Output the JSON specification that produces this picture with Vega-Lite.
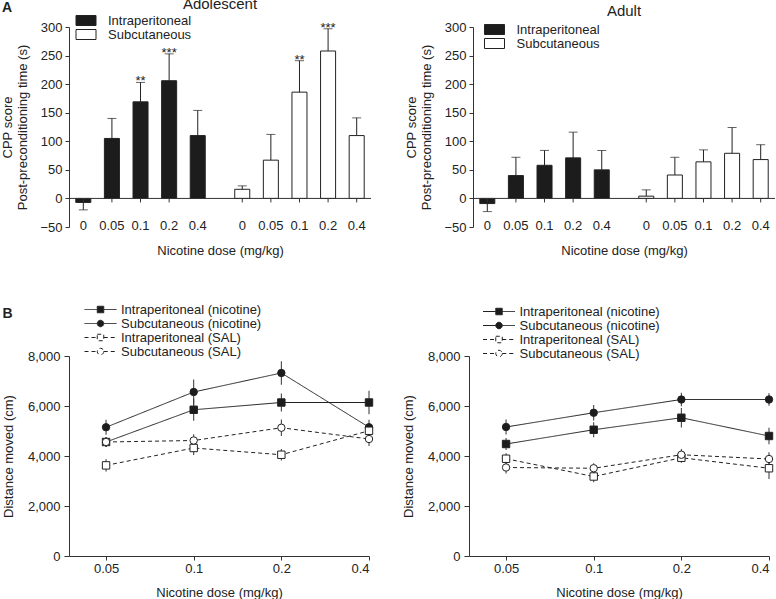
{
  "$schema": "https://vega.github.io/schema/vega-lite/v6.json",
  "padding": {"left": 1, "top": -3, "right": 0, "bottom": 0},
  "config": {
    "font": "Liberation Sans",
    "view": {"stroke": null},
    "axis": {"labelFontSize": 13, "titleFontSize": 13, "titleFontWeight": "normal", "labelColor": "#222", "titleColor": "#222", "domainColor": "#333", "tickColor": "#333", "grid": false, "tickSize": 4, "labelPadding": 3, "labelOverlap": false},
    "legend": {"labelFontSize": 13, "labelColor": "#222", "padding": 0},
    "title": {"fontSize": 15, "fontWeight": "normal", "color": "#222"}
  },
  "datasets": {
    "bars": [
      {"age": "Adolescent", "route": "Intraperitoneal", "dose": "0", "value": -7, "upper": -20, "sig": null},
      {"age": "Adolescent", "route": "Intraperitoneal", "dose": "0.05", "value": 105, "upper": 140, "sig": null},
      {"age": "Adolescent", "route": "Intraperitoneal", "dose": "0.1", "value": 169, "upper": 203, "sig": "**"},
      {"age": "Adolescent", "route": "Intraperitoneal", "dose": "0.2", "value": 206, "upper": 253, "sig": "***"},
      {"age": "Adolescent", "route": "Intraperitoneal", "dose": "0.4", "value": 110, "upper": 154, "sig": null},
      {"age": "Adolescent", "route": "Subcutaneous", "dose": "0", "value": 16, "upper": 22, "sig": null},
      {"age": "Adolescent", "route": "Subcutaneous", "dose": "0.05", "value": 67, "upper": 112, "sig": null},
      {"age": "Adolescent", "route": "Subcutaneous", "dose": "0.1", "value": 186, "upper": 241, "sig": "**"},
      {"age": "Adolescent", "route": "Subcutaneous", "dose": "0.2", "value": 258, "upper": 297, "sig": "***"},
      {"age": "Adolescent", "route": "Subcutaneous", "dose": "0.4", "value": 110, "upper": 141, "sig": null},
      {"age": "Adult", "route": "Intraperitoneal", "dose": "0", "value": -9, "upper": -23, "sig": null},
      {"age": "Adult", "route": "Intraperitoneal", "dose": "0.05", "value": 40, "upper": 72, "sig": null},
      {"age": "Adult", "route": "Intraperitoneal", "dose": "0.1", "value": 58, "upper": 84, "sig": null},
      {"age": "Adult", "route": "Intraperitoneal", "dose": "0.2", "value": 71, "upper": 116, "sig": null},
      {"age": "Adult", "route": "Intraperitoneal", "dose": "0.4", "value": 50, "upper": 84, "sig": null},
      {"age": "Adult", "route": "Subcutaneous", "dose": "0", "value": 4, "upper": 15, "sig": null},
      {"age": "Adult", "route": "Subcutaneous", "dose": "0.05", "value": 41, "upper": 72, "sig": null},
      {"age": "Adult", "route": "Subcutaneous", "dose": "0.1", "value": 64, "upper": 85, "sig": null},
      {"age": "Adult", "route": "Subcutaneous", "dose": "0.2", "value": 79, "upper": 124, "sig": null},
      {"age": "Adult", "route": "Subcutaneous", "dose": "0.4", "value": 68, "upper": 94, "sig": null}
    ],
    "lines": [
      {"age": "Adolescent", "series": "Intraperitoneal (nicotine)", "dose": 0.05, "value": 4560, "sd": 200},
      {"age": "Adolescent", "series": "Intraperitoneal (nicotine)", "dose": 0.1, "value": 5850, "sd": 440},
      {"age": "Adolescent", "series": "Intraperitoneal (nicotine)", "dose": 0.2, "value": 6140, "sd": 360},
      {"age": "Adolescent", "series": "Intraperitoneal (nicotine)", "dose": 0.4, "value": 6140, "sd": 470},
      {"age": "Adolescent", "series": "Subcutaneous (nicotine)", "dose": 0.05, "value": 5150, "sd": 300},
      {"age": "Adolescent", "series": "Subcutaneous (nicotine)", "dose": 0.1, "value": 6560, "sd": 500},
      {"age": "Adolescent", "series": "Subcutaneous (nicotine)", "dose": 0.2, "value": 7320, "sd": 470},
      {"age": "Adolescent", "series": "Subcutaneous (nicotine)", "dose": 0.4, "value": 5150, "sd": 300},
      {"age": "Adolescent", "series": "Intraperitoneal (SAL)", "dose": 0.05, "value": 3625, "sd": 250},
      {"age": "Adolescent", "series": "Intraperitoneal (SAL)", "dose": 0.1, "value": 4320, "sd": 280},
      {"age": "Adolescent", "series": "Intraperitoneal (SAL)", "dose": 0.2, "value": 4050, "sd": 230},
      {"age": "Adolescent", "series": "Intraperitoneal (SAL)", "dose": 0.4, "value": 5010, "sd": 250},
      {"age": "Adolescent", "series": "Subcutaneous (SAL)", "dose": 0.05, "value": 4560, "sd": 200},
      {"age": "Adolescent", "series": "Subcutaneous (SAL)", "dose": 0.1, "value": 4620, "sd": 250},
      {"age": "Adolescent", "series": "Subcutaneous (SAL)", "dose": 0.2, "value": 5130, "sd": 330},
      {"age": "Adolescent", "series": "Subcutaneous (SAL)", "dose": 0.4, "value": 4680, "sd": 280},
      {"age": "Adult", "series": "Intraperitoneal (nicotine)", "dose": 0.05, "value": 4480, "sd": 240},
      {"age": "Adult", "series": "Intraperitoneal (nicotine)", "dose": 0.1, "value": 5050, "sd": 300},
      {"age": "Adult", "series": "Intraperitoneal (nicotine)", "dose": 0.2, "value": 5530, "sd": 390},
      {"age": "Adult", "series": "Intraperitoneal (nicotine)", "dose": 0.4, "value": 4800, "sd": 330},
      {"age": "Adult", "series": "Subcutaneous (nicotine)", "dose": 0.05, "value": 5160, "sd": 300},
      {"age": "Adult", "series": "Subcutaneous (nicotine)", "dose": 0.1, "value": 5730, "sd": 310},
      {"age": "Adult", "series": "Subcutaneous (nicotine)", "dose": 0.2, "value": 6260, "sd": 270},
      {"age": "Adult", "series": "Subcutaneous (nicotine)", "dose": 0.4, "value": 6260, "sd": 250},
      {"age": "Adult", "series": "Intraperitoneal (SAL)", "dose": 0.05, "value": 3890, "sd": 220},
      {"age": "Adult", "series": "Intraperitoneal (SAL)", "dose": 0.1, "value": 3180, "sd": 230},
      {"age": "Adult", "series": "Intraperitoneal (SAL)", "dose": 0.2, "value": 3930, "sd": 200},
      {"age": "Adult", "series": "Intraperitoneal (SAL)", "dose": 0.4, "value": 3510, "sd": 430},
      {"age": "Adult", "series": "Subcutaneous (SAL)", "dose": 0.05, "value": 3540, "sd": 240},
      {"age": "Adult", "series": "Subcutaneous (SAL)", "dose": 0.1, "value": 3510, "sd": 200},
      {"age": "Adult", "series": "Subcutaneous (SAL)", "dose": 0.2, "value": 4050, "sd": 230},
      {"age": "Adult", "series": "Subcutaneous (SAL)", "dose": 0.4, "value": 3880, "sd": 270}
    ]
  },
  "resolve": {"scale": {"fill": "independent", "strokeDash": "independent", "shape": "independent", "stroke": "independent"}},
  "spacing": 46,
  "vconcat": [
    {
      "title": {"text": "A", "anchor": "start", "frame": "bounds", "fontSize": 14, "fontWeight": "bold", "offset": 0, "dy": 18},
      "spacing": 33,
      "resolve": {"scale": {"fill": "independent"}},
      "hconcat": [
        {
          "title": {"text": "Adolescent", "offset": 2},
          "width": 302, "height": 200,
          "data": {"name": "bars"},
          "transform": [{"filter": "datum.age === 'Adolescent'"}],
          "layer": [
            {
              "mark": {"type": "bar", "stroke": "#222", "strokeWidth": 1},
              "encoding": {
                "x": {"field": "route", "type": "nominal", "scale": {"domain": ["Intraperitoneal", "Subcutaneous"], "paddingInner": 0.1, "paddingOuter": 0}, "axis": {"labels": false, "ticks": false, "domain": false, "title": "Nicotine dose (mg/kg)", "titlePadding": 17}},
                "xOffset": {"field": "dose", "type": "nominal", "sort": ["0", "0.05", "0.1", "0.2", "0.4"], "scale": {"paddingInner": 0.475, "paddingOuter": 0.2375}},
                "y": {"field": "value", "type": "quantitative", "scale": {"domain": [-50, 300], "nice": false, "zero": false}, "axis": {"values": [-50, 0, 50, 100, 150, 200, 250, 300], "tickCount": 12, "offset": 0, "title": ["CPP score", "Post-preconditioning time (s)"], "titleLineHeight": 15, "titlePadding": 10}},
                "fill": {"field": "route", "type": "nominal", "scale": {"domain": ["Intraperitoneal", "Subcutaneous"], "range": ["#1c1c1c", "#ffffff"]}, "legend": {"orient": "none", "legendX": 10.5, "legendY": -13, "title": null, "symbolType": "M-2,-1H2V1H-2Z", "symbolSize": 100, "symbolStrokeColor": "#222", "symbolStrokeWidth": 1, "labelOffset": 15.5, "rowPadding": -4}}
              }
            },
            {
              "mark": {"type": "rule", "color": "#222"},
              "encoding": {
                "x": {"field": "route", "type": "nominal"},
                "xOffset": {"field": "dose", "type": "nominal", "sort": ["0", "0.05", "0.1", "0.2", "0.4"]},
                "y": {"field": "value", "type": "quantitative"},
                "y2": {"field": "upper"}
              }
            },
            {
              "mark": {"type": "tick", "color": "#222", "size": 9, "thickness": 1},
              "encoding": {
                "x": {"field": "route", "type": "nominal"},
                "xOffset": {"field": "dose", "type": "nominal", "sort": ["0", "0.05", "0.1", "0.2", "0.4"]},
                "y": {"field": "upper", "type": "quantitative"}
              }
            },
            {
              "transform": [{"aggregate": [{"op": "count", "as": "n"}]}],
              "mark": {"type": "rule", "color": "#333"},
              "encoding": {"y": {"datum": 0, "type": "quantitative"}}
            },
            {
              "transform": [{"filter": "!(datum.route === 'Intraperitoneal' && datum.dose === '0.4')"}],
              "mark": {"type": "rule", "color": "#333", "xOffset": 14.3},
              "encoding": {
                "x": {"field": "route", "type": "nominal"},
                "xOffset": {"field": "dose", "type": "nominal", "sort": ["0", "0.05", "0.1", "0.2", "0.4"]},
                "y": {"datum": 0, "type": "quantitative"},
                "y2": {"datum": -7}
              }
            },
            {
              "mark": {"type": "text", "fontSize": 13, "color": "#222", "baseline": "middle", "dy": -1},
              "encoding": {
                "x": {"field": "route", "type": "nominal"},
                "xOffset": {"field": "dose", "type": "nominal", "sort": ["0", "0.05", "0.1", "0.2", "0.4"]},
                "y": {"datum": -50, "type": "quantitative"},
                "text": {"field": "dose"}
              }
            },
            {
              "transform": [{"filter": "datum.sig"}],
              "mark": {"type": "text", "fontSize": 13, "color": "#222", "baseline": "alphabetic", "dy": 3},
              "encoding": {
                "x": {"field": "route", "type": "nominal"},
                "xOffset": {"field": "dose", "type": "nominal", "sort": ["0", "0.05", "0.1", "0.2", "0.4"]},
                "y": {"field": "upper", "type": "quantitative"},
                "text": {"field": "sig"}
              }
            }
          ]
        },
        {
          "title": {"text": "Adult", "offset": 2},
          "width": 302, "height": 200,
          "data": {"name": "bars"},
          "transform": [{"filter": "datum.age === 'Adult'"}],
          "layer": [
            {
              "mark": {"type": "bar", "stroke": "#222", "strokeWidth": 1},
              "encoding": {
                "x": {"field": "route", "type": "nominal", "scale": {"domain": ["Intraperitoneal", "Subcutaneous"], "paddingInner": 0.1, "paddingOuter": 0}, "axis": {"labels": false, "ticks": false, "domain": false, "title": "Nicotine dose (mg/kg)", "titlePadding": 17}},
                "xOffset": {"field": "dose", "type": "nominal", "sort": ["0", "0.05", "0.1", "0.2", "0.4"], "scale": {"paddingInner": 0.475, "paddingOuter": 0.2375}},
                "y": {"field": "value", "type": "quantitative", "scale": {"domain": [-50, 300], "nice": false, "zero": false}, "axis": {"values": [-50, 0, 50, 100, 150, 200, 250, 300], "tickCount": 12, "offset": 0, "title": ["CPP score", "Post-preconditioning time (s)"], "titleLineHeight": 15, "titlePadding": 10}},
                "fill": {"field": "route", "type": "nominal", "scale": {"domain": ["Intraperitoneal", "Subcutaneous"], "range": ["#1c1c1c", "#ffffff"]}, "legend": {"orient": "none", "legendX": 15, "legendY": -4, "title": null, "symbolType": "M-2,-1H2V1H-2Z", "symbolSize": 100, "symbolStrokeColor": "#222", "symbolStrokeWidth": 1, "labelOffset": 15.5, "rowPadding": -4}}
              }
            },
            {
              "mark": {"type": "rule", "color": "#222"},
              "encoding": {
                "x": {"field": "route", "type": "nominal"},
                "xOffset": {"field": "dose", "type": "nominal", "sort": ["0", "0.05", "0.1", "0.2", "0.4"]},
                "y": {"field": "value", "type": "quantitative"},
                "y2": {"field": "upper"}
              }
            },
            {
              "mark": {"type": "tick", "color": "#222", "size": 9, "thickness": 1},
              "encoding": {
                "x": {"field": "route", "type": "nominal"},
                "xOffset": {"field": "dose", "type": "nominal", "sort": ["0", "0.05", "0.1", "0.2", "0.4"]},
                "y": {"field": "upper", "type": "quantitative"}
              }
            },
            {
              "transform": [{"aggregate": [{"op": "count", "as": "n"}]}],
              "mark": {"type": "rule", "color": "#333"},
              "encoding": {"y": {"datum": 0, "type": "quantitative"}}
            },
            {
              "transform": [{"filter": "!(datum.route === 'Intraperitoneal' && datum.dose === '0.4')"}],
              "mark": {"type": "rule", "color": "#333", "xOffset": 14.3},
              "encoding": {
                "x": {"field": "route", "type": "nominal"},
                "xOffset": {"field": "dose", "type": "nominal", "sort": ["0", "0.05", "0.1", "0.2", "0.4"]},
                "y": {"datum": 0, "type": "quantitative"},
                "y2": {"datum": -7}
              }
            },
            {
              "mark": {"type": "text", "fontSize": 13, "color": "#222", "baseline": "middle", "dy": -1},
              "encoding": {
                "x": {"field": "route", "type": "nominal"},
                "xOffset": {"field": "dose", "type": "nominal", "sort": ["0", "0.05", "0.1", "0.2", "0.4"]},
                "y": {"datum": -50, "type": "quantitative"},
                "text": {"field": "dose"}
              }
            }
          ]
        }
      ]
    },
    {
      "title": {"text": "B", "anchor": "start", "frame": "bounds", "fontSize": 14, "fontWeight": "bold", "offset": 0, "dy": 18},
      "spacing": 27,
      "resolve": {"scale": {"fill": "independent", "strokeDash": "independent", "shape": "independent", "stroke": "independent"}},
      "hconcat": [
        {
          "width": 300, "height": 200,
          "data": {"name": "lines"},
          "transform": [{"filter": "datum.age === 'Adolescent'"}],
          "encoding": {
            "x": {"field": "dose", "type": "quantitative", "scale": {"type": "log", "base": 2, "domain": [0.0373, 0.4], "nice": false}, "axis": {"values": [0.05, 0.1, 0.2, 0.4], "format": "~g", "title": "Nicotine dose (mg/kg)", "labelPadding": 2, "titlePadding": 11}},
            "y": {"field": "value", "type": "quantitative", "scale": {"domain": [0, 8000], "nice": false}, "axis": {"values": [0, 2000, 4000, 6000, 8000], "format": ",d", "title": "Distance moved (cm)", "tickSize": 5, "labelPadding": 4, "titlePadding": 12}}
          },
          "layer": [
            {
              "mark": {"type": "errorbar", "color": "#333", "thickness": 1},
              "encoding": {"yError": {"field": "sd"}, "detail": {"field": "series"}}
            },
            {
              "mark": {"type": "line", "color": "#222", "strokeWidth": 1},
              "encoding": {
                "strokeDash": {"field": "series", "type": "nominal", "scale": {"domain": ["Intraperitoneal (nicotine)", "Subcutaneous (nicotine)", "Intraperitoneal (SAL)", "Subcutaneous (SAL)"], "range": [[1, 0], [1, 0], [4, 3], [4, 3]]},
                  "legend": {"orient": "none", "legendX": 25, "legendY": -53, "title": null, "symbolSize": 100, "symbolOpacity": 1, "symbolStrokeWidth": 1, "labelOffset": 14, "rowPadding": 0}}
              }
            },
            {
              "mark": {"type": "point", "filled": true, "stroke": "#222", "strokeWidth": 1, "size": 55, "opacity": 1},
              "encoding": {
                "shape": {"condition": {"test": "indexof(datum.series, 'Intra') === 0", "value": "square"}, "value": "circle"},
                "fill": {"condition": {"test": "indexof(datum.series, 'SAL') > 0", "value": "#ffffff"}, "value": "#1c1c1c"}
              }
            },
            {
              "mark": {"type": "point", "filled": true, "strokeWidth": 1, "opacity": 0, "size": 1},
              "encoding": {
                "shape": {"field": "series", "type": "nominal", "scale": {"domain": ["Intraperitoneal (nicotine)", "Subcutaneous (nicotine)", "Intraperitoneal (SAL)", "Subcutaneous (SAL)"], "range": ["M-3.2,0H-0.65M0.65,0H3.2M-0.65,-0.65H0.65V0.65H-0.65Z", "M-3.2,0H-0.65M0.65,0H3.2M0.65,0A0.65,0.65 0 1 1 -0.65,0A0.65,0.65 0 1 1 0.65,0Z", "M-3.2,0H-0.65M0.65,0H3.2M-0.65,-0.65H0.65V0.65H-0.65Z", "M-3.2,0H-0.65M0.65,0H3.2M0.65,0A0.65,0.65 0 1 1 -0.65,0A0.65,0.65 0 1 1 0.65,0Z"]},
                  "legend": {"orient": "none", "legendX": 25, "legendY": -53, "title": null, "symbolSize": 100, "symbolOpacity": 1, "symbolStrokeWidth": 1, "labelOffset": 14, "rowPadding": 0}},
                "fill": {"field": "series", "type": "nominal", "scale": {"domain": ["Intraperitoneal (nicotine)", "Subcutaneous (nicotine)", "Intraperitoneal (SAL)", "Subcutaneous (SAL)"], "range": ["#1c1c1c", "#1c1c1c", "#ffffff", "#ffffff"]},
                  "legend": {"orient": "none", "legendX": 25, "legendY": -53, "title": null, "symbolSize": 100, "symbolOpacity": 1, "symbolStrokeWidth": 1, "labelOffset": 14, "rowPadding": 0}},
                "stroke": {"field": "series", "type": "nominal", "scale": {"domain": ["Intraperitoneal (nicotine)", "Subcutaneous (nicotine)", "Intraperitoneal (SAL)", "Subcutaneous (SAL)"], "range": ["#222222", "#222222", "#222222", "#222222"]},
                  "legend": {"orient": "none", "legendX": 25, "legendY": -53, "title": null, "symbolSize": 100, "symbolOpacity": 1, "symbolStrokeWidth": 1, "labelOffset": 14, "rowPadding": 0}}
              }
            }
          ]
        },
        {
          "width": 300, "height": 200,
          "data": {"name": "lines"},
          "transform": [{"filter": "datum.age === 'Adult'"}],
          "encoding": {
            "x": {"field": "dose", "type": "quantitative", "scale": {"type": "log", "base": 2, "domain": [0.0373, 0.4], "nice": false}, "axis": {"values": [0.05, 0.1, 0.2, 0.4], "format": "~g", "title": "Nicotine dose (mg/kg)", "labelPadding": 2, "titlePadding": 11}},
            "y": {"field": "value", "type": "quantitative", "scale": {"domain": [0, 8000], "nice": false}, "axis": {"values": [0, 2000, 4000, 6000, 8000], "format": ",d", "title": "Distance moved (cm)", "tickSize": 5, "labelPadding": 4, "titlePadding": 12}}
          },
          "layer": [
            {
              "mark": {"type": "errorbar", "color": "#333", "thickness": 1},
              "encoding": {"yError": {"field": "sd"}, "detail": {"field": "series"}}
            },
            {
              "mark": {"type": "line", "color": "#222", "strokeWidth": 1},
              "encoding": {
                "strokeDash": {"field": "series", "type": "nominal", "scale": {"domain": ["Intraperitoneal (nicotine)", "Subcutaneous (nicotine)", "Intraperitoneal (SAL)", "Subcutaneous (SAL)"], "range": [[1, 0], [1, 0], [4, 3], [4, 3]]},
                  "legend": {"orient": "none", "legendX": 23.5, "legendY": -51, "title": null, "symbolSize": 100, "symbolOpacity": 1, "symbolStrokeWidth": 1, "labelOffset": 14, "rowPadding": 0}}
              }
            },
            {
              "mark": {"type": "point", "filled": true, "stroke": "#222", "strokeWidth": 1, "size": 55, "opacity": 1},
              "encoding": {
                "shape": {"condition": {"test": "indexof(datum.series, 'Intra') === 0", "value": "square"}, "value": "circle"},
                "fill": {"condition": {"test": "indexof(datum.series, 'SAL') > 0", "value": "#ffffff"}, "value": "#1c1c1c"}
              }
            },
            {
              "mark": {"type": "point", "filled": true, "strokeWidth": 1, "opacity": 0, "size": 1},
              "encoding": {
                "shape": {"field": "series", "type": "nominal", "scale": {"domain": ["Intraperitoneal (nicotine)", "Subcutaneous (nicotine)", "Intraperitoneal (SAL)", "Subcutaneous (SAL)"], "range": ["M-3.2,0H-0.65M0.65,0H3.2M-0.65,-0.65H0.65V0.65H-0.65Z", "M-3.2,0H-0.65M0.65,0H3.2M0.65,0A0.65,0.65 0 1 1 -0.65,0A0.65,0.65 0 1 1 0.65,0Z", "M-3.2,0H-0.65M0.65,0H3.2M-0.65,-0.65H0.65V0.65H-0.65Z", "M-3.2,0H-0.65M0.65,0H3.2M0.65,0A0.65,0.65 0 1 1 -0.65,0A0.65,0.65 0 1 1 0.65,0Z"]},
                  "legend": {"orient": "none", "legendX": 23.5, "legendY": -51, "title": null, "symbolSize": 100, "symbolOpacity": 1, "symbolStrokeWidth": 1, "labelOffset": 14, "rowPadding": 0}},
                "fill": {"field": "series", "type": "nominal", "scale": {"domain": ["Intraperitoneal (nicotine)", "Subcutaneous (nicotine)", "Intraperitoneal (SAL)", "Subcutaneous (SAL)"], "range": ["#1c1c1c", "#1c1c1c", "#ffffff", "#ffffff"]},
                  "legend": {"orient": "none", "legendX": 23.5, "legendY": -51, "title": null, "symbolSize": 100, "symbolOpacity": 1, "symbolStrokeWidth": 1, "labelOffset": 14, "rowPadding": 0}},
                "stroke": {"field": "series", "type": "nominal", "scale": {"domain": ["Intraperitoneal (nicotine)", "Subcutaneous (nicotine)", "Intraperitoneal (SAL)", "Subcutaneous (SAL)"], "range": ["#222222", "#222222", "#222222", "#222222"]},
                  "legend": {"orient": "none", "legendX": 23.5, "legendY": -51, "title": null, "symbolSize": 100, "symbolOpacity": 1, "symbolStrokeWidth": 1, "labelOffset": 14, "rowPadding": 0}}
              }
            }
          ]
        }
      ]
    }
  ]
}
